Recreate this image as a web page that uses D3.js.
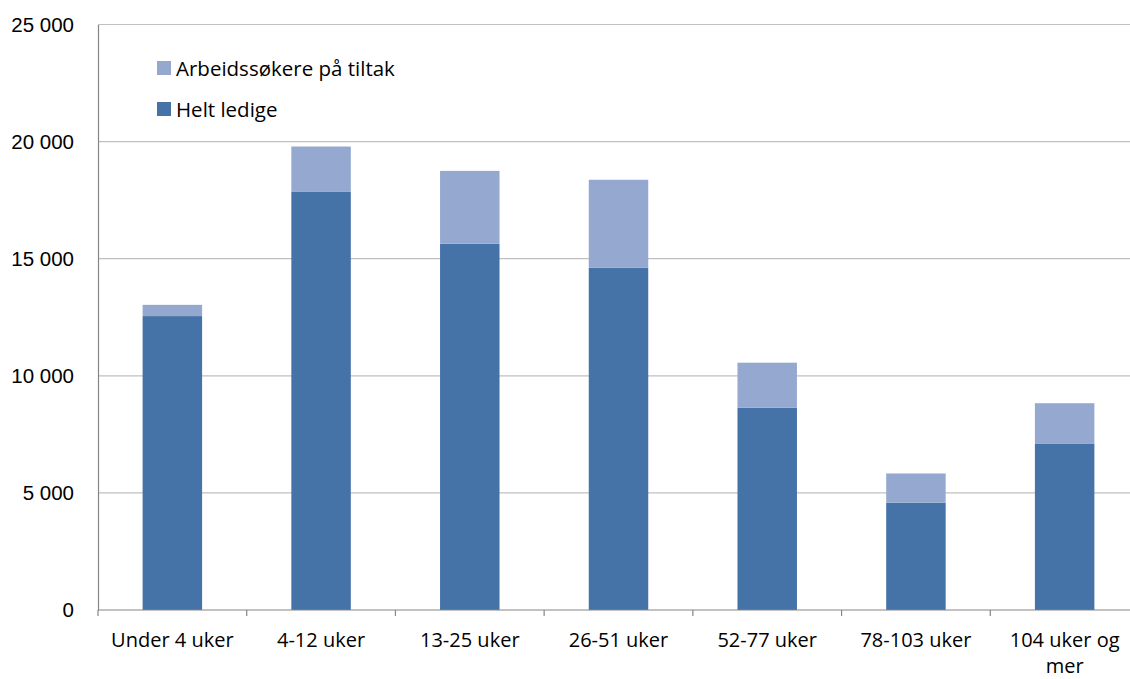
<!DOCTYPE html>
<html>
<head>
<meta charset="utf-8">
<script src="https://cdn.jsdelivr.net/npm/d3@7"></script>
<style>
  body { margin: 0; background: #fff; }
  svg { display: block; font-family: "Open Sans", "Noto Sans", sans-serif; }
</style>
</head>
<body>
<svg id="chart" width="1130" height="679"></svg>
<script>
// Varighet som arbeidssøker
const categories = ["Under 4 uker", "4-12 uker", "13-25 uker", "26-51 uker", "52-77 uker", "78-103 uker", "104 uker og mer"];
const heltLedige = [12550, 17870, 15640, 14620, 8640, 4580, 7090];
const paaTiltak = [480, 1920, 3110, 3750, 1920, 1250, 1740];
const yTicks = [0, 5000, 10000, 15000, 20000, 25000];
const seriesNames = ["Helt ledige", "Arbeidssøkere på tiltak"];
const colors = ["#4573A7", "#95A9D0"];

const svg = d3.select("#chart");
const margin = { top: 24.5, left: 98, bottom: 69, right: -9 };
const width = 1130 - margin.left - margin.right;
const height = 679 - margin.top - margin.bottom;

const g = svg.append("g").attr("transform", `translate(${margin.left},${margin.top})`);

const x = d3.scaleBand().domain(categories).range([0, width]).paddingInner(0.6).paddingOuter(0.3);
const y = d3.scaleLinear().domain([0, 25000]).range([height, 0]);

const fmt = d => d3.format(",")(d).replace(/,/g, " ");

// gridlines
g.append("g")
  .selectAll("line")
  .data(yTicks.filter(d => d > 0))
  .enter().append("line")
  .attr("x1", 0).attr("x2", width)
  .attr("y1", d => y(d)).attr("y2", d => y(d))
  .attr("stroke", "#c0c0c0").attr("stroke-width", 1.2);

// stacked bars
const rows = categories.map((c, i) => ({ cat: c, helt: heltLedige[i], tiltak: paaTiltak[i] }));
const stack = d3.stack().keys(["helt", "tiltak"])(rows);

g.append("g").selectAll("g")
  .data(stack)
  .enter().append("g")
  .attr("fill", (d, i) => colors[i])
  .selectAll("rect")
  .data(d => d)
  .enter().append("rect")
  .attr("x", d => x(d.data.cat))
  .attr("width", x.bandwidth())
  .attr("y", d => y(d[1]))
  .attr("height", d => y(d[0]) - y(d[1]));

// y axis
const yAxis = g.append("g")
  .call(d3.axisLeft(y).tickValues(yTicks).tickFormat(fmt).tickSize(0).tickPadding(24));
yAxis.select(".domain").attr("stroke", "#868686").attr("stroke-width", 1.2);
yAxis.selectAll("text").attr("font-size", 20.5).attr("fill", "#000");

// x axis with ticks between categories
const xAxis = g.append("g").attr("transform", `translate(0,${height})`);
xAxis.append("line").attr("x1", 0).attr("x2", width).attr("stroke", "#868686").attr("stroke-width", 1.2);
const step = x.step();
xAxis.selectAll(".tk")
  .data(d3.range(categories.length + 1))
  .enter().append("line")
  .attr("x1", i => i * step).attr("x2", i => i * step)
  .attr("y1", 0).attr("y2", 6)
  .attr("stroke", "#868686").attr("stroke-width", 1.2);

const labels = xAxis.selectAll(".lbl")
  .data(categories)
  .enter().append("text")
  .attr("x", d => x(d) + x.bandwidth() / 2)
  .attr("y", 37)
  .attr("text-anchor", "middle")
  .attr("font-size", 20)
  .attr("fill", "#000");
labels.each(function(d) {
  const t = d3.select(this);
  const parts = d === "104 uker og mer" ? ["104 uker og", "mer"] : [d];
  parts.forEach((p, k) => {
    t.append("tspan").attr("x", x(d) + x.bandwidth() / 2).attr("dy", k === 0 ? 0 : 25.5).text(p);
  });
});

// legend
const legend = svg.append("g").attr("transform", "translate(157,61)");
const legendItems = [
  { name: seriesNames[1], color: colors[1] },
  { name: seriesNames[0], color: colors[0] }
];
const li = legend.selectAll("g")
  .data(legendItems)
  .enter().append("g")
  .attr("transform", (d, i) => `translate(0,${i * 41})`);
li.append("rect").attr("width", 14).attr("height", 14).attr("fill", d => d.color);
li.append("text").attr("x", 19).attr("y", 14.5).attr("font-size", 20.5).attr("fill", "#000").text(d => d.name);
</script>
</body>
</html>
